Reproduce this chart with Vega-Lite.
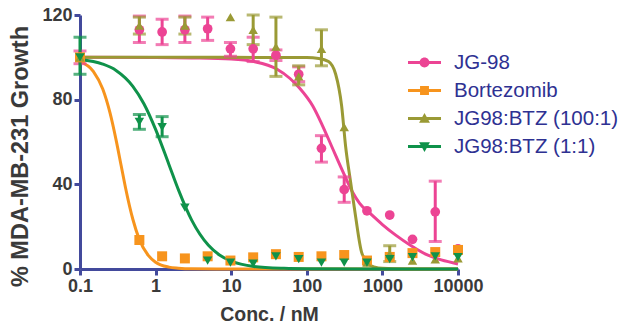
{
  "$schema": "https://vega.github.io/schema/vega-lite/v6.json",
  "width": 378,
  "height": 254,
  "autosize": {"type": "none"},
  "padding": {"left": 80, "top": 15, "right": 160, "bottom": 62},
  "background": "white",
  "config": {
    "view": {"stroke": null},
    "font": "Liberation Sans",
    "axis": {
      "grid": false,
      "domainColor": "#434a9c",
      "domainWidth": 3,
      "tickColor": "#434a9c",
      "tickWidth": 3,
      "tickSize": 6,
      "labelFont": "Liberation Sans",
      "labelFontWeight": "bold",
      "labelFontSize": 18,
      "labelColor": "#3a3a3a",
      "labelPadding": 2,
      "titleFont": "Liberation Sans",
      "titleFontWeight": "bold",
      "titleFontSize": 19.5,
      "titleColor": "#3a3a3a"
    },
    "legend": {
      "labelFont": "Liberation Sans",
      "labelFontSize": 20.5,
      "labelColor": "#2e3192",
      "labelOffset": 13,
      "labelLimit": 300,
      "symbolSize": 1089,
      "symbolOpacity": 1,
      "symbolStrokeWidth": 0,
      "rowPadding": 1,
      "padding": 0
    }
  },
  "datasets": {
    "pts": [
      {"s": "JG-98", "c": 0.1, "v": 100, "lo": 97, "hi": 103},
      {"s": "JG-98", "c": 0.61, "v": 113, "lo": 107, "hi": 119.5},
      {"s": "JG-98", "c": 1.22, "v": 112, "lo": 106, "hi": 118},
      {"s": "JG-98", "c": 2.44, "v": 113, "lo": 107, "hi": 119.5},
      {"s": "JG-98", "c": 4.88, "v": 113.5, "lo": 108, "hi": 119},
      {"s": "JG-98", "c": 9.77, "v": 104, "lo": 100.5, "hi": 107},
      {"s": "JG-98", "c": 19.53, "v": 104, "lo": 98, "hi": 109.5},
      {"s": "JG-98", "c": 39.06, "v": 101, "lo": 98.5, "hi": 103.5},
      {"s": "JG-98", "c": 78.13, "v": 92, "lo": 88.5, "hi": 95.5},
      {"s": "JG-98", "c": 156.25, "v": 57, "lo": 50.5, "hi": 63},
      {"s": "JG-98", "c": 312.5, "v": 37.5, "lo": 31.5, "hi": 43.5},
      {"s": "JG-98", "c": 625, "v": 27.5},
      {"s": "JG-98", "c": 1250, "v": 25.5},
      {"s": "JG-98", "c": 2500, "v": 14},
      {"s": "JG-98", "c": 5000, "v": 27, "lo": 13, "hi": 41.5},
      {"s": "JG-98", "c": 10000, "v": 9.5},
      {"s": "Bortezomib", "c": 0.1, "v": 100},
      {"s": "Bortezomib", "c": 0.61, "v": 13.7},
      {"s": "Bortezomib", "c": 1.22, "v": 6},
      {"s": "Bortezomib", "c": 2.44, "v": 5},
      {"s": "Bortezomib", "c": 4.88, "v": 6},
      {"s": "Bortezomib", "c": 9.77, "v": 4},
      {"s": "Bortezomib", "c": 19.53, "v": 5.5},
      {"s": "Bortezomib", "c": 39.06, "v": 7},
      {"s": "Bortezomib", "c": 78.13, "v": 5.7},
      {"s": "Bortezomib", "c": 156.25, "v": 6},
      {"s": "Bortezomib", "c": 312.5, "v": 6.6},
      {"s": "Bortezomib", "c": 625, "v": 4},
      {"s": "Bortezomib", "c": 1250, "v": 5.7},
      {"s": "Bortezomib", "c": 2500, "v": 7.5},
      {"s": "Bortezomib", "c": 5000, "v": 8},
      {"s": "Bortezomib", "c": 10000, "v": 9},
      {"s": "JG98:BTZ (100:1)", "c": 0.1, "v": 100},
      {"s": "JG98:BTZ (100:1)", "c": 0.61, "v": 115, "lo": 111, "hi": 119},
      {"s": "JG98:BTZ (100:1)", "c": 2.44, "v": 115, "lo": 111, "hi": 119},
      {"s": "JG98:BTZ (100:1)", "c": 9.77, "v": 119},
      {"s": "JG98:BTZ (100:1)", "c": 19.53, "v": 113, "lo": 106, "hi": 120},
      {"s": "JG98:BTZ (100:1)", "c": 39.06, "v": 105, "lo": 91, "hi": 119},
      {"s": "JG98:BTZ (100:1)", "c": 78.13, "v": 91, "lo": 87, "hi": 96},
      {"s": "JG98:BTZ (100:1)", "c": 156.25, "v": 104, "lo": 96, "hi": 113},
      {"s": "JG98:BTZ (100:1)", "c": 312.5, "v": 67},
      {"s": "JG98:BTZ (100:1)", "c": 625, "v": 3},
      {"s": "JG98:BTZ (100:1)", "c": 1250, "v": 7, "lo": 3.5, "hi": 11},
      {"s": "JG98:BTZ (100:1)", "c": 2500, "v": 4},
      {"s": "JG98:BTZ (100:1)", "c": 5000, "v": 4.5},
      {"s": "JG98:BTZ (100:1)", "c": 10000, "v": 5},
      {"s": "JG98:BTZ (1:1)", "c": 0.1, "v": 100, "lo": 92, "hi": 109.5},
      {"s": "JG98:BTZ (1:1)", "c": 0.61, "v": 69.5, "lo": 66, "hi": 73},
      {"s": "JG98:BTZ (1:1)", "c": 1.22, "v": 67, "lo": 62.5, "hi": 72},
      {"s": "JG98:BTZ (1:1)", "c": 2.44, "v": 29},
      {"s": "JG98:BTZ (1:1)", "c": 4.88, "v": 4},
      {"s": "JG98:BTZ (1:1)", "c": 9.77, "v": 3},
      {"s": "JG98:BTZ (1:1)", "c": 19.53, "v": 2.5},
      {"s": "JG98:BTZ (1:1)", "c": 39.06, "v": 6},
      {"s": "JG98:BTZ (1:1)", "c": 78.13, "v": 4.7},
      {"s": "JG98:BTZ (1:1)", "c": 156.25, "v": 3},
      {"s": "JG98:BTZ (1:1)", "c": 312.5, "v": 3},
      {"s": "JG98:BTZ (1:1)", "c": 625, "v": 3},
      {"s": "JG98:BTZ (1:1)", "c": 1250, "v": 4.7},
      {"s": "JG98:BTZ (1:1)", "c": 2500, "v": 5.6},
      {"s": "JG98:BTZ (1:1)", "c": 5000, "v": 6},
      {"s": "JG98:BTZ (1:1)", "c": 10000, "v": 5.6}
    ],
    "fit": [
      {"s": "JG-98", "c": 0.1, "v": 100},
      {"s": "JG-98", "c": 1, "v": 99.9},
      {"s": "JG-98", "c": 3, "v": 99.7},
      {"s": "JG-98", "c": 10, "v": 99.2},
      {"s": "JG-98", "c": 20, "v": 98},
      {"s": "JG-98", "c": 40, "v": 94.5},
      {"s": "JG-98", "c": 60, "v": 90},
      {"s": "JG-98", "c": 80, "v": 85.5},
      {"s": "JG-98", "c": 120, "v": 77},
      {"s": "JG-98", "c": 160, "v": 68},
      {"s": "JG-98", "c": 213, "v": 58},
      {"s": "JG-98", "c": 300, "v": 46},
      {"s": "JG-98", "c": 400, "v": 36.5},
      {"s": "JG-98", "c": 500, "v": 31},
      {"s": "JG-98", "c": 700, "v": 26},
      {"s": "JG-98", "c": 1000, "v": 21},
      {"s": "JG-98", "c": 1500, "v": 16},
      {"s": "JG-98", "c": 2400, "v": 11},
      {"s": "JG-98", "c": 4000, "v": 6.5},
      {"s": "JG-98", "c": 6000, "v": 4.3},
      {"s": "JG-98", "c": 10000, "v": 2.4},
      {"s": "Bortezomib", "c": 0.1, "v": 98},
      {"s": "Bortezomib", "c": 0.15, "v": 93.4},
      {"s": "Bortezomib", "c": 0.2, "v": 85},
      {"s": "Bortezomib", "c": 0.25, "v": 73.6},
      {"s": "Bortezomib", "c": 0.3, "v": 61},
      {"s": "Bortezomib", "c": 0.35, "v": 48.9},
      {"s": "Bortezomib", "c": 0.4, "v": 38.4},
      {"s": "Bortezomib", "c": 0.5, "v": 23.5},
      {"s": "Bortezomib", "c": 0.6, "v": 14.6},
      {"s": "Bortezomib", "c": 0.8, "v": 6.4},
      {"s": "Bortezomib", "c": 1, "v": 3.2},
      {"s": "Bortezomib", "c": 1.5, "v": 0.9},
      {"s": "Bortezomib", "c": 2, "v": 0.4},
      {"s": "Bortezomib", "c": 3, "v": 0.1},
      {"s": "Bortezomib", "c": 10, "v": 0},
      {"s": "Bortezomib", "c": 10000, "v": 0},
      {"s": "JG98:BTZ (100:1)", "c": 0.1, "v": 100},
      {"s": "JG98:BTZ (100:1)", "c": 10, "v": 100},
      {"s": "JG98:BTZ (100:1)", "c": 100, "v": 99.9},
      {"s": "JG98:BTZ (100:1)", "c": 144, "v": 99.5},
      {"s": "JG98:BTZ (100:1)", "c": 194, "v": 98},
      {"s": "JG98:BTZ (100:1)", "c": 241, "v": 92},
      {"s": "JG98:BTZ (100:1)", "c": 289, "v": 77},
      {"s": "JG98:BTZ (100:1)", "c": 326, "v": 58},
      {"s": "JG98:BTZ (100:1)", "c": 380, "v": 41},
      {"s": "JG98:BTZ (100:1)", "c": 441, "v": 25},
      {"s": "JG98:BTZ (100:1)", "c": 530, "v": 8},
      {"s": "JG98:BTZ (100:1)", "c": 655, "v": 2.4},
      {"s": "JG98:BTZ (100:1)", "c": 800, "v": 0.8},
      {"s": "JG98:BTZ (100:1)", "c": 1000, "v": 0.3},
      {"s": "JG98:BTZ (100:1)", "c": 2000, "v": 0},
      {"s": "JG98:BTZ (100:1)", "c": 10000, "v": 0},
      {"s": "JG98:BTZ (1:1)", "c": 0.1, "v": 99},
      {"s": "JG98:BTZ (1:1)", "c": 0.2, "v": 96.8},
      {"s": "JG98:BTZ (1:1)", "c": 0.3, "v": 93.8},
      {"s": "JG98:BTZ (1:1)", "c": 0.5, "v": 86.3},
      {"s": "JG98:BTZ (1:1)", "c": 0.7, "v": 78.1},
      {"s": "JG98:BTZ (1:1)", "c": 1, "v": 66},
      {"s": "JG98:BTZ (1:1)", "c": 1.5, "v": 49.4},
      {"s": "JG98:BTZ (1:1)", "c": 2, "v": 37.5},
      {"s": "JG98:BTZ (1:1)", "c": 3, "v": 23.1},
      {"s": "JG98:BTZ (1:1)", "c": 5, "v": 11.2},
      {"s": "JG98:BTZ (1:1)", "c": 7, "v": 6.6},
      {"s": "JG98:BTZ (1:1)", "c": 10, "v": 3.7},
      {"s": "JG98:BTZ (1:1)", "c": 20, "v": 1.2},
      {"s": "JG98:BTZ (1:1)", "c": 50, "v": 0.3},
      {"s": "JG98:BTZ (1:1)", "c": 100, "v": 0.1},
      {"s": "JG98:BTZ (1:1)", "c": 1000, "v": 0},
      {"s": "JG98:BTZ (1:1)", "c": 10000, "v": 0}
    ]
  },
  "encoding": {
    "x": {
      "field": "c", "type": "quantitative",
      "scale": {"type": "log", "domain": [0.1, 10000], "nice": false},
      "axis": {"values": [0.1, 1, 10, 100, 1000, 10000], "format": "~g", "title": "Conc. / nM", "titlePadding": 10, "labelFlush": false}
    },
    "y": {
      "field": "v", "type": "quantitative",
      "scale": {"domain": [0, 120], "nice": false, "zero": false},
      "axis": {"values": [0, 40, 80, 120], "title": "% MDA-MB-231 Growth", "titlePadding": 9, "titleFontSize": 23.5, "titleY": 141}
    }
  },
  "layer": [
    {"data": {"name": "fit"}, "transform": [{"filter": "datum.s === 'JG-98'"}],
     "mark": {"type": "line", "strokeWidth": 3, "interpolate": "monotone", "color": "#ec4494"}, "encoding": {}},
    {"data": {"name": "fit"}, "transform": [{"filter": "datum.s === 'Bortezomib'"}],
     "mark": {"type": "line", "strokeWidth": 3, "interpolate": "monotone", "color": "#f7941d"}, "encoding": {}},
    {"data": {"name": "fit"}, "transform": [{"filter": "datum.s === 'JG98:BTZ (100:1)'"}],
     "mark": {"type": "line", "strokeWidth": 3, "interpolate": "monotone", "color": "#9a9a35"}, "encoding": {}},
    {"data": {"name": "fit"}, "transform": [{"filter": "datum.s === 'JG98:BTZ (1:1)'"}],
     "mark": {"type": "line", "strokeWidth": 3, "interpolate": "monotone", "color": "#0f924a"}, "encoding": {}},
    {"data": {"name": "pts"}, "transform": [{"filter": "datum.s === 'JG-98' && isValid(datum.lo)"}],
     "mark": {"type": "errorbar", "ticks": true, "size": 13, "thickness": 3, "color": "#ec4494"},
     "encoding": {"y": {"field": "lo", "type": "quantitative"}, "y2": {"field": "hi"}}},
    {"data": {"name": "pts"}, "transform": [{"filter": "datum.s === 'JG98:BTZ (100:1)' && isValid(datum.lo)"}],
     "mark": {"type": "errorbar", "ticks": true, "size": 13, "thickness": 3, "color": "#9a9a35"},
     "encoding": {"y": {"field": "lo", "type": "quantitative"}, "y2": {"field": "hi"}}},
    {"data": {"name": "pts"}, "transform": [{"filter": "datum.s === 'JG98:BTZ (1:1)' && isValid(datum.lo)"}],
     "mark": {"type": "errorbar", "ticks": true, "size": 13, "thickness": 3, "color": "#0f924a"},
     "encoding": {"y": {"field": "lo", "type": "quantitative"}, "y2": {"field": "hi"}}},
    {"data": {"name": "pts"}, "transform": [{"filter": "datum.s === 'JG-98'"}],
     "mark": {"type": "point", "shape": "circle", "filled": true, "opacity": 1, "size": 95, "color": "#ec4494"}},
    {"data": {"name": "pts"}, "transform": [{"filter": "datum.s === 'Bortezomib'"}],
     "mark": {"type": "point", "shape": "square", "filled": true, "opacity": 1, "size": 100, "color": "#f7941d"}},
    {"data": {"name": "pts"}, "transform": [{"filter": "datum.s === 'JG98:BTZ (100:1)'"}],
     "mark": {"type": "point", "shape": "triangle-up", "filled": true, "opacity": 1, "size": 90, "color": "#9a9a35"}},
    {"data": {"name": "pts"}, "transform": [{"filter": "datum.s === 'JG98:BTZ (1:1)'"}],
     "mark": {"type": "point", "shape": "triangle-down", "filled": true, "opacity": 1, "size": 90, "color": "#0f924a"}},
    {
      "data": {"name": "pts"},
      "mark": {"type": "point", "filled": true, "opacity": 0},
      "encoding": {
        "color": {"field": "s", "type": "nominal",
          "scale": {"domain": ["JG-98", "Bortezomib", "JG98:BTZ (100:1)", "JG98:BTZ (1:1)"], "range": ["#ec4494", "#f7941d", "#9a9a35", "#0f924a"]},
          "legend": {"title": null, "orient": "none", "legendX": 328, "legendY": 31}},
        "shape": {"field": "s", "type": "nominal",
          "scale": {"domain": ["JG-98", "Bortezomib", "JG98:BTZ (100:1)", "JG98:BTZ (1:1)"],
            "range": [
              "M-1,-0.09H1V0.09H-1Z M-0.3,0A0.3,0.3 0 1,1 0.3,0A0.3,0.3 0 1,1 -0.3,0Z",
              "M-1,-0.09H1V0.09H-1Z M-0.27,-0.27H0.27V0.27H-0.27Z",
              "M-1,-0.09H1V0.09H-1Z M0,-0.33L0.33,0.26H-0.33Z",
              "M-1,-0.09H1V0.09H-1Z M-0.33,-0.26H0.33L0,0.33Z"
            ]},
          "legend": {"title": null, "orient": "none", "legendX": 328, "legendY": 31}}
      }
    }
  ]
}
